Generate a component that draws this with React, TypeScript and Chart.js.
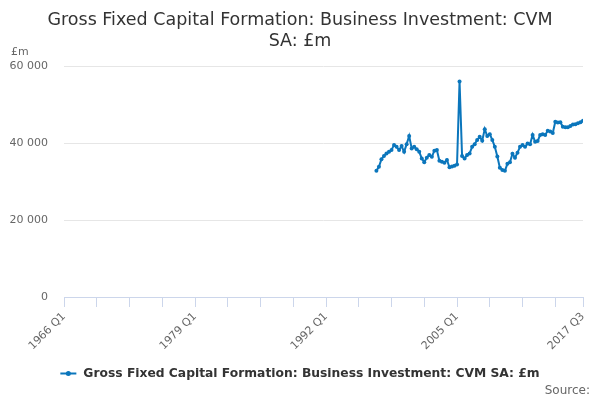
import React, { useEffect, useRef } from "react";
import { Chart, registerables } from "chart.js";

Chart.register(...registerables);

// x axis: quarterly categories from 1966 Q1 to 2017 Q3
const firstYear = 1966;
const quarterCount = 207;
const quarters: string[] = [];
for (let i = 0; i < quarterCount; i++) {
  quarters.push(`${firstYear + Math.floor(i / 4)} Q${(i % 4) + 1}`);
}

// series starts at 1997 Q1
const seriesStart = "1997 Q1";
const investment = [
  32800, 33800, 35800, 36600, // 1997
  37300, 37700, 38200, 39500, // 1998
  39000, 38200, 39200, 37700, // 1999
  39700, 41800, 38600, 39000, // 2000
  38400, 37700, 36000, 35000, // 2001
  36200, 36900, 36400, 38000, // 2002
  38200, 35400, 35100, 34900, // 2003
  35600, 33700, 33900, 34100, // 2004
  34400, 56000, 36600, 36000, // 2005
  36900, 37300, 39000, 39700, // 2006
  40800, 41600, 40600, 43600, // 2007
  41800, 42300, 40800, 39000, // 2008
  36500, 33600, 33000, 32800, // 2009
  34600, 35000, 37200, 36200, // 2010
  37500, 39000, 39500, 39000, // 2011
  39900, 39700, 42100, 40300, // 2012
  40500, 42100, 42300, 42100, // 2013
  43200, 43000, 42600, 45500, // 2014
  45300, 45400, 44200, 44100, // 2015
  44100, 44400, 44800, 44900, // 2016
  45100, 45400, 45800, // 2017
];

const xTickLabels = ["1966 Q1", "1979 Q1", "1992 Q1", "2005 Q1", "2017 Q3"];
const xTickStep = 13;
const yTicks = [0, 20000, 40000, 60000];

const titleLines = ["Gross Fixed Capital Formation: Business Investment: CVM", "SA: £m"];
const seriesName = "Gross Fixed Capital Formation: Business Investment: CVM SA: £m";
const unitLabel = "£m";
const sourceLabel = "Source:";

const blue = "#0b76bc";
const font = "'DejaVu Sans', sans-serif";

const fmt = (v: number) => String(v).replace(/\B(?=(\d{3})+(?!\d))/g, " ");

const decorations = {
  id: "decorations",
  afterDraw(chart: Chart) {
    const ctx = chart.ctx;
    ctx.save();
    // title
    ctx.fillStyle = "#333333";
    ctx.font = `17.5px ${font}`;
    ctx.textAlign = "center";
    ctx.textBaseline = "alphabetic";
    ctx.fillText(titleLines[0], 300, 24.5);
    ctx.fillText(titleLines[1], 300, 45.5);
    // unit
    ctx.fillStyle = "#666666";
    ctx.font = `11px ${font}`;
    ctx.textAlign = "left";
    ctx.textBaseline = "middle";
    ctx.fillText(unitLabel, 11, 52.5);
    // legend
    ctx.font = `bold 12.3px ${font}`;
    const tw = ctx.measureText(seriesName).width;
    const total = 16 + 7 + tw;
    const lx = (chart.width - total) / 2;
    const ly = 373.5;
    ctx.strokeStyle = blue;
    ctx.lineWidth = 2;
    ctx.beginPath();
    ctx.moveTo(lx, ly);
    ctx.lineTo(lx + 16, ly);
    ctx.stroke();
    ctx.fillStyle = blue;
    ctx.beginPath();
    ctx.arc(lx + 8, ly, 2.5, 0, Math.PI * 2);
    ctx.fill();
    ctx.fillStyle = "#333333";
    ctx.textAlign = "left";
    ctx.fillText(seriesName, lx + 23, ly);
    // source
    ctx.fillStyle = "#666666";
    ctx.font = `12px ${font}`;
    ctx.textAlign = "right";
    ctx.fillText(sourceLabel, 590, 391);
    ctx.restore();
  },
};

const App: React.FC = () => {
  const canvasRef = useRef<HTMLCanvasElement>(null);
  const chartRef = useRef<Chart | null>(null);

  useEffect(() => {
    const ctx = canvasRef.current?.getContext("2d");
    if (!ctx) return;
    if (chartRef.current) chartRef.current.destroy();

    const startIdx = quarters.indexOf(seriesStart);
    const points = investment.map((v, k) => ({ x: startIdx + k, y: v }));
    const last = quarters.length - 1;

    chartRef.current = new Chart(ctx, {
      type: "line",
      data: {
        datasets: [
          {
            label: seriesName,
            data: points,
            borderColor: blue,
            backgroundColor: blue,
            borderWidth: 2,
            pointRadius: 2,
            pointBorderWidth: 0,
            pointBackgroundColor: blue,
            tension: 0,
          },
        ],
      },
      options: {
        responsive: true,
        maintainAspectRatio: false,
        animation: false,
        layout: { padding: { left: 0, right: 17, top: 66, bottom: 0 } },
        plugins: {
          legend: { display: false },
          title: { display: false },
          tooltip: { enabled: false },
        },
        scales: {
          x: {
            type: "linear",
            min: 0,
            max: last,
            afterBuildTicks: (scale: any) => {
              const t = [];
              for (let i = 0; i < last; i += xTickStep) t.push({ value: i });
              t.push({ value: last });
              scale.ticks = t;
            },
            afterFit: (scale: any) => {
              scale.height = 103;
            },
            ticks: {
              autoSkip: false,
              minRotation: 45,
              maxRotation: 45,
              padding: 3,
              color: "#666666",
              font: { family: font, size: 11 },
              callback: (value: any) => {
                const label = quarters[Number(value)];
                return xTickLabels.includes(label) ? label : "";
              },
            },
            grid: {
              drawOnChartArea: false,
              drawTicks: true,
              tickLength: 10,
              color: "#ccd6eb",
            },
            border: { display: true, color: "#ccd6eb", width: 1 },
          },
          y: {
            min: 0,
            max: 60000,
            afterBuildTicks: (scale: any) => {
              scale.ticks = yTicks.map((v) => ({ value: v }));
            },
            afterFit: (scale: any) => {
              scale.width = 64;
            },
            ticks: {
              padding: 16,
              color: "#666666",
              font: { family: font, size: 11 },
              callback: (value: any) => fmt(Number(value)),
            },
            grid: { color: "#e6e6e6", drawTicks: false },
            border: { display: false },
          },
        },
      },
      plugins: [decorations],
    });

    return () => {
      if (chartRef.current) {
        chartRef.current.destroy();
        chartRef.current = null;
      }
    };
  }, []);

  return (
    <div style={{ position: "absolute", left: 0, top: 0, width: 600, height: 400 }}>
      <canvas ref={canvasRef} />
    </div>
  );
};

export default App;
